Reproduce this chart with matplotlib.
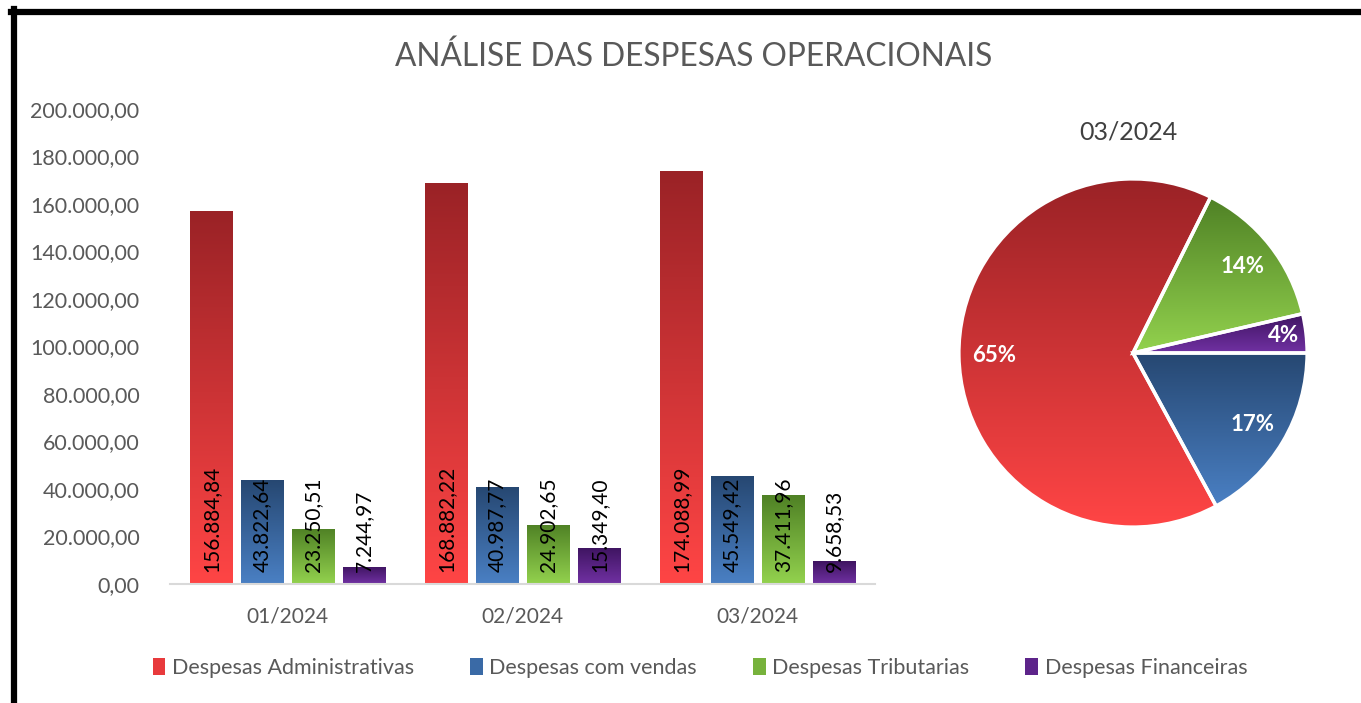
import matplotlib
matplotlib.use("Agg")
import matplotlib.pyplot as plt
import numpy as np
from matplotlib.colors import LinearSegmentedColormap
from matplotlib.lines import Line2D
from matplotlib.patches import Patch

plt.rcParams["font.family"] = ["Lato", "DejaVu Sans"]

MONTHS = ["01/2024", "02/2024", "03/2024"]
SERIES = ["Despesas Administrativas", "Despesas com vendas",
          "Despesas Tributarias", "Despesas Financeiras"]
ADM = [156884.84, 168882.22, 174088.99]
VENDAS = [43822.64, 40987.77, 45549.42]
TRIB = [23250.51, 24902.65, 37411.96]
FIN = [7244.97, 15349.40, 9658.53]

# (top, bottom) gradient colours per series
GRAD = [("#9a2226", "#ff4545"), ("#264771", "#4a80c4"),
        ("#4f8125", "#93d24e"), ("#3e1460", "#7131a3")]
MID = ["#e83a3c", "#3a6aa6", "#77b23c", "#5d248a"]
GREY = "#595959"


def br(v, pos=None):
    s = f"{v:,.2f}"
    return s.replace(",", "X").replace(".", ",").replace("X", ".")


def add_gradient(ax, patch, top, bottom, z):
    x0, y0, x1, y1 = patch.get_path().transformed(patch.get_patch_transform()).get_extents().extents
    cmap = LinearSegmentedColormap.from_list("g", [bottom, top])
    im = ax.imshow(np.linspace(0, 1, 256).reshape(-1, 1), cmap=cmap, origin="lower",
                   extent=[x0, x1, y0, y1], aspect="auto", zorder=z, interpolation="bilinear")
    im.set_clip_path(patch)


fig = plt.figure(figsize=(13.61, 7.03), dpi=100)
W, H = 1361, 703

# ---- bar chart
ax = fig.add_axes([170 / W, 1 - 584 / H, 705 / W, 475 / H])
x = np.arange(len(MONTHS))
pitch, width = 0.217, 0.179
for i, vals in enumerate([ADM, VENDAS, TRIB, FIN]):
    bars = ax.bar(x + (i - 1.5) * pitch, vals, width, facecolor="none",
                  edgecolor="none", zorder=2)
    for b, v in zip(bars, vals):
        add_gradient(ax, b, *GRAD[i], z=1)
        ax.annotate(br(v), (b.get_x() + b.get_width() / 2, 0), xytext=(0, 9),
                    textcoords="offset points", rotation=90, ha="center", va="bottom",
                    fontsize=15, color="black", zorder=3)

ax.set_xlim(-0.5, 2.5)
ax.set_ylim(0, 200000)
ax.set_yticks(np.arange(0, 200001, 20000))
ax.yaxis.set_major_formatter(plt.FuncFormatter(br))
ax.set_xticks(x, MONTHS)
ax.tick_params(axis="y", length=0, pad=22, labelsize=15.5, labelcolor=GREY)
ax.tick_params(axis="x", length=0, pad=16, labelsize=15, labelcolor=GREY)
for s in ["top", "right", "left"]:
    ax.spines[s].set_visible(False)
ax.spines["bottom"].set_color("#d9d9d9")
ax.spines["bottom"].set_linewidth(1.5)

# ---- pie of last month
pie_vals = [ADM[-1], VENDAS[-1], FIN[-1], TRIB[-1]]
pie_grad = [GRAD[0], GRAD[1], GRAD[3], GRAD[2]]
total = sum(pie_vals)
start = 360 - (pie_vals[0] + pie_vals[1]) / total * 360
pax = fig.add_axes([(1133 - 175) / W, (H - 353 - 175) / H, 350 / W, 350 / H])
wedges, _, autotexts = pax.pie(pie_vals, startangle=start, counterclock=True,
                               autopct="%1.0f%%", pctdistance=0.8,
                               wedgeprops=dict(edgecolor="white", linewidth=2.5),
                               textprops=dict(color="white", fontsize=16, fontweight="bold"))
for w, g in zip(wedges, pie_grad):
    w.set_facecolor("none")
    w.set_zorder(2)
    add_gradient(pax, w, *g, z=1)
for t in autotexts:
    t.set_zorder(3)
# small slice label sits a bit further out
ang = np.deg2rad((wedges[2].theta1 + wedges[2].theta2) / 2)
autotexts[2].set_position((0.87 * np.cos(ang), 0.87 * np.sin(ang)))
pax.set_xlim(-1.005, 1.005)
pax.set_ylim(-1.005, 1.005)
pax.set_aspect("equal")
pax.axis("off")

fig.text(1128 / W, 1 - 132 / H, MONTHS[-1], ha="center", va="center",
         fontsize=18, color="#404040")
fig.text(694 / W, 1 - 57 / H, "ANÁLISE DAS DESPESAS OPERACIONAIS", ha="center",
         va="center", fontsize=22.8, color=GREY)

handles = [Patch(facecolor=c) for c in MID]
fig.legend(handles, SERIES, loc="center", bbox_to_anchor=(700 / W, 1 - 668 / H),
           ncol=4, frameon=False, fontsize=15.5, labelcolor=GREY,
           handlelength=0.6, handleheight=0.8, handletextpad=0.3, columnspacing=2.6)

# black frame on top and left
fig.add_artist(Line2D([11 / W, 1], [1 - 12 / H, 1 - 12 / H], color="black", lw=4.5))
fig.add_artist(Line2D([14 / W, 14 / W], [0, 1 - 9 / H], color="black", lw=4.5))

fig.savefig("out.png", dpi=100)
